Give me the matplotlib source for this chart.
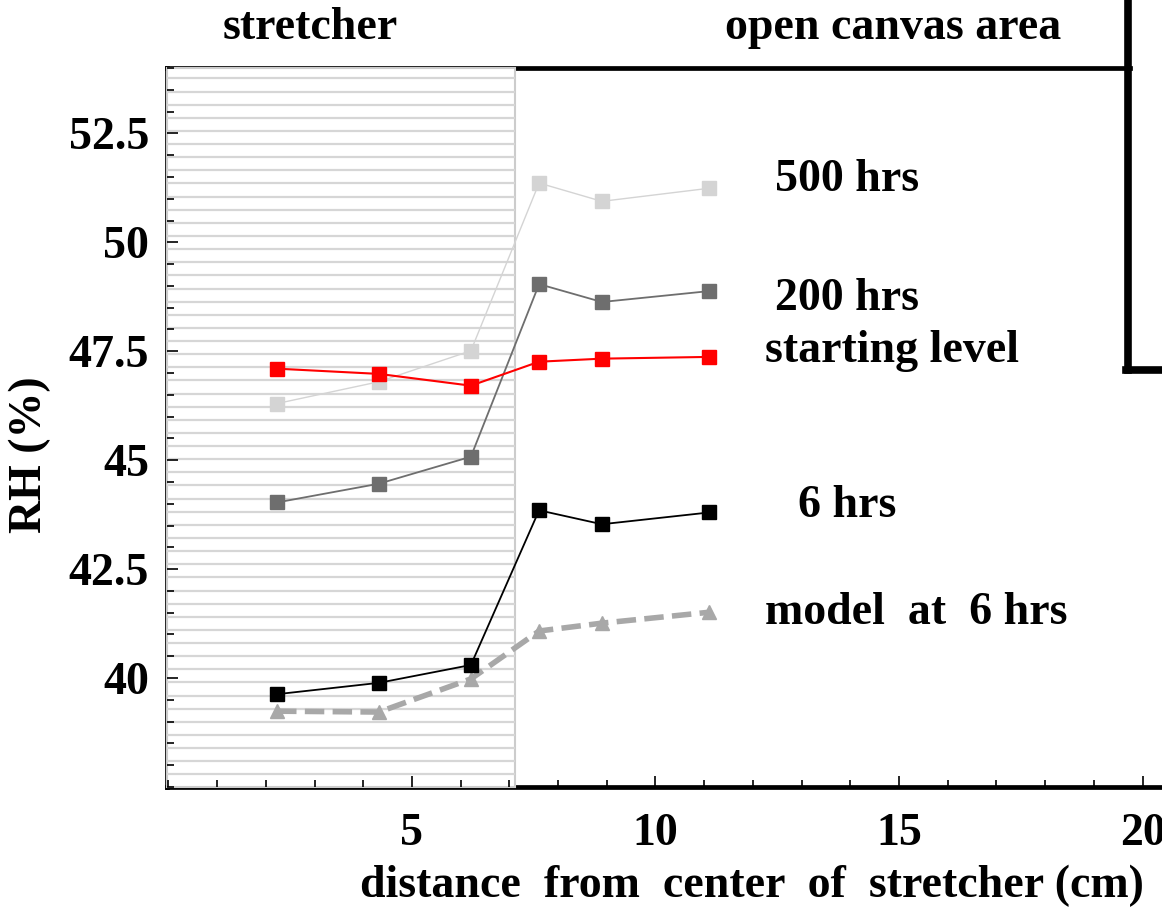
import numpy as np
import matplotlib
matplotlib.use("Agg")
import matplotlib.pyplot as plt
from matplotlib.patches import Rectangle
from matplotlib.ticker import MultipleLocator

# ---- data ----
distance = [2.23, 4.32, 6.21, 7.61, 8.90, 11.10]
rh_500 = [46.30, 46.80, 47.51, 51.36, 50.94, 51.24]
rh_200 = [44.03, 44.46, 45.08, 49.04, 48.63, 48.88]
rh_start = [47.10, 46.98, 46.71, 47.26, 47.33, 47.37]
rh_6 = [39.63, 39.89, 40.30, 43.85, 43.53, 43.80]
rh_model = [39.24, 39.22, 39.98, 41.08, 41.26, 41.51]
stretcher_edge = 7.11
x_ticks = [5, 10, 15, 20]
y_ticks = [40, 42.5, 45, 47.5, 50, 52.5]
y_tick_labels = ["40", "42.5", "45", "47.5", "50", "52.5"]

W, H = 1162, 913
fig = plt.figure(figsize=(W / 100, H / 100), dpi=100)
plt.rcParams['font.family'] = ['Liberation Serif', 'DejaVu Serif']
plt.rcParams['font.weight'] = 'bold'

L, R, T, B = 167, 1162, 68, 787
ax = fig.add_axes([L / W, (H - B) / H, (R - L) / W, (B - T) / H])
xlim = (-0.03, 20.40)
ylim = (37.5, 54.0)
ax.set_xlim(*xlim)
ax.set_ylim(*ylim)

# shaded stretcher area
rect = Rectangle((xlim[0], ylim[0]), stretcher_edge - xlim[0], ylim[1] - ylim[0],
                 facecolor='white', edgecolor='#cccccc', lw=1.5, zorder=2.6,
                 clip_on=False)
ax.add_patch(rect)
hatch_y = np.arange(53.76, ylim[0], -0.3013)
ax.hlines(hatch_y, xlim[0], stretcher_edge, colors='#d6d6d6', lw=1.6, zorder=2.7)

# series
ms = 10
ax.plot(distance, rh_500, color='#d4d4d4', lw=1.0, marker='s', ms=ms,
        mec='#d4d4d4', zorder=5)
ax.plot(distance, rh_200, color='#6e6e6e', lw=1.3, marker='s', ms=ms,
        mec='#6e6e6e', zorder=5)
ax.plot(distance, rh_start, color='#ff0000', lw=1.5, marker='s', ms=ms,
        mec='#ff0000', zorder=5)
ax.plot(distance, rh_6, color='black', lw=1.3, marker='s', ms=ms,
        mec='black', zorder=5)
ax.plot(distance, rh_model, color='#a8a8a8', lw=4, ls=(0, (3.5, 1.5)), marker='^',
        ms=ms, mec='#a8a8a8', zorder=4)

# spines
for s in ['left', 'bottom', 'top']:
    ax.spines[s].set_linewidth(3.4)
    ax.spines[s].set_color('black')
ax.spines['right'].set_visible(False)
ax.spines['top'].set_bounds(xlim[0], 19.75)
ax.xaxis.set_zorder(3)
ax.yaxis.set_zorder(3)

ax.set_xticks(x_ticks)
ax.xaxis.set_minor_locator(MultipleLocator(1))
ax.set_yticks(y_ticks)
ax.set_yticklabels(y_tick_labels)
ax.yaxis.set_minor_locator(MultipleLocator(0.5))
ax.tick_params(which='both', direction='in', top=False, right=False,
               labelsize=33, width=1.2)
ax.tick_params(which='major', length=8)
ax.tick_params(which='minor', length=5)
ax.tick_params(axis='x', pad=19)
ax.tick_params(axis='y', pad=13)

# annotations
fs = 33
ax.text(12.45, 51.44, "500 hrs", fontsize=fs, fontweight='bold', va='center')
ax.text(12.45, 48.69, "200 hrs", fontsize=fs, fontweight='bold', va='center')
ax.text(12.25, 47.50, "starting level", fontsize=fs, fontweight='bold', va='center')
ax.text(12.45, 43.94, "  6 hrs", fontsize=fs, fontweight='bold', va='center')
ax.text(12.25, 41.49, "model  at  6 hrs", fontsize=fs, fontweight='bold', va='center')

fig.text(310 / W, 1 - 28 / H, "stretcher", fontsize=fs, fontweight='bold',
         ha='center', va='center')
fig.text(893 / W, 1 - 28 / H, "open canvas area", fontsize=fs, fontweight='bold',
         ha='center', va='center')
fig.text(752 / W, 1 - 886 / H, "distance  from  center  of  stretcher (cm)",
         fontsize=fs, fontweight='bold', ha='center', va='center')
fig.text(30 / W, 1 - 455 / H, "RH (%)", fontsize=fs, fontweight='bold',
         ha='center', va='center', rotation=90)

# bracket at the upper right
fig.add_artist(plt.Line2D([1128 / W, 1128 / W], [1.0, 1 - 370 / H],
                          transform=fig.transFigure, color='black', lw=5.5))
fig.add_artist(plt.Line2D([1126 / W, 1.0], [1 - 370 / H, 1 - 370 / H],
                          transform=fig.transFigure, color='black', lw=5.5))

fig.savefig("out.png", dpi=100)
